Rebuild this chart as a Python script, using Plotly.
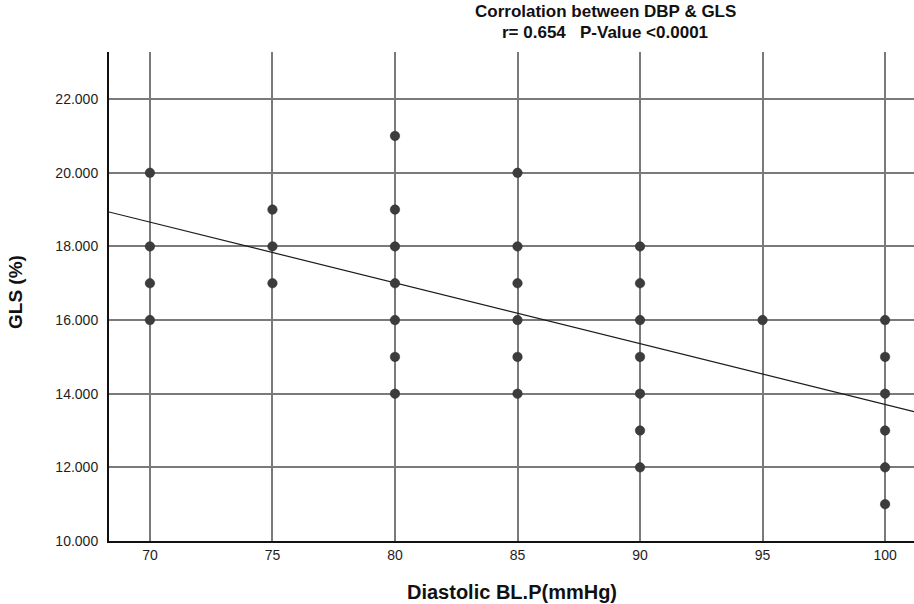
import plotly.graph_objects as go

# Data
dbp = [70, 70, 70, 70,
       75, 75, 75,
       80, 80, 80, 80, 80, 80, 80,
       85, 85, 85, 85, 85, 85,
       90, 90, 90, 90, 90, 90, 90,
       95,
       100, 100, 100, 100, 100, 100]
gls = [20, 18, 17, 16,
       19, 18, 17,
       21, 19, 18, 17, 16, 15, 14,
       20, 18, 17, 16, 15, 14,
       18, 17, 16, 15, 14, 13, 12,
       16,
       16, 15, 14, 13, 12, 11]

# Fit line
fit_intercept = 30.21
fit_slope = -0.165

x_range = [68.33, 101.18]
y_range = [10.0, 23.28]
x_ticks = [70, 75, 80, 85, 90, 95, 100]
y_ticks = [10, 12, 14, 16, 18, 20, 22]
y_tick_labels = ["10.000", "12.000", "14.000", "16.000", "18.000", "20.000", "22.000"]

title_line1 = "Corrolation between DBP & GLS"
title_line2 = "r= 0.654   P-Value <0.0001"
x_title = "Diastolic BL.P(mmHg)"
y_title = "GLS (%)"

FONT = "Arial, Liberation Sans, Helvetica, sans-serif"
W, H = 914, 604
ML, MR, MT, MB = 109, 0, 52, 63
PW, PH = W - ML - MR, H - MT - MB


def px_to_paper(px, py):
    return (px - ML) / PW, 1 - (py - MT) / PH


fit_x = x_range
fit_y = [fit_intercept + fit_slope * v for v in fit_x]

fig = go.Figure()
fig.add_trace(go.Scatter(
    x=fit_x, y=fit_y, mode="lines",
    line=dict(color="#1a1a1a", width=1.2),
    showlegend=False, hoverinfo="skip",
))
fig.add_trace(go.Scatter(
    x=dbp, y=gls, mode="markers",
    marker=dict(color="#3c3c3c", size=9.5, symbol="circle",
                line=dict(color="#2a2a2a", width=0.5)),
    showlegend=False,
))

annots = []
for text, (px, py), size, angle in [
    (title_line1, (605, 12), 17, 0),
    (title_line2, (605, 32), 17, 0),
    (x_title, (ML + PW / 2, 592), 20, 0),
    (y_title, (15, 292), 19, -90),
]:
    ax, ay = px_to_paper(px, py)
    annots.append(dict(text="<b>" + text + "</b>", x=ax, y=ay,
                       xref="paper", yref="paper", xanchor="center", yanchor="middle",
                       textangle=angle, showarrow=False,
                       font=dict(family=FONT, size=size, color="#111111")))

fig.update_layout(
    width=W, height=H,
    margin=dict(l=ML, r=MR, t=MT, b=MB),
    plot_bgcolor="white", paper_bgcolor="white",
    font=dict(family=FONT, color="#222222"),
    annotations=annots,
    xaxis=dict(
        range=x_range, tickvals=x_ticks,
        showgrid=True, gridcolor="#7a7a7a", gridwidth=1.5,
        showline=True, linecolor="#111111", linewidth=2,
        zeroline=False, ticks="", ticklabelstandoff=0,
        tickfont=dict(family=FONT, size=14, color="#1e1e1e"),
    ),
    yaxis=dict(
        range=y_range, tickvals=y_ticks, ticktext=y_tick_labels,
        showgrid=True, gridcolor="#7a7a7a", gridwidth=1.5,
        showline=True, linecolor="#111111", linewidth=2,
        zeroline=False, ticks="", ticklabelstandoff=6,
        tickfont=dict(family=FONT, size=14, color="#1e1e1e"),
    ),
)

fig.write_html("out.html")
